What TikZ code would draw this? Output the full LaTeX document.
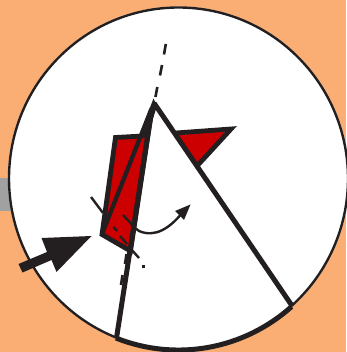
\documentclass[tikz,border=0pt]{standalone}
\usetikzlibrary{arrows.meta}
\definecolor{bg}{HTML}{FBAE74}
\definecolor{ink}{HTML}{231F20}
\definecolor{redf}{HTML}{CC0000}
\begin{document}
\begin{tikzpicture}[x=1pt,y=-1pt,
  thick line/.style={draw=ink,line width=5pt,line cap=butt},
  thin line/.style={draw=ink,line width=2.4pt},
  red panel/.style={fill=redf,draw=ink,line width=4.8pt,line join=miter}]
\useasboundingbox (0,0) rectangle (346,352);
\fill[bg] (0,0) rectangle (346,352);
\fill[black!37] (0,178) rectangle (12,211);
% disc
\fill[white] (178.5,178.5) ellipse [x radius=170.5,y radius=172];
\draw[ink,line width=2.4pt] (178.5,178.5) ellipse [x radius=169.5,y radius=171];
\draw[ink,line width=5pt] (115.9,338) arc[start angle=111.6,end angle=48.3,x radius=170,y radius=171.5];
% red panels
\path[red panel] (115.5,137.5) -- (143,136) -- (148,125) -- (151.5,112) -- (130.5,251) -- (102,234.5) -- cycle;
\path[fill=redf] (178,135) -- (226,131) -- (197,165) -- cycle;
\draw[ink,line width=4.8pt,miter limit=10] (176,133) -- (231,129) -- (197,166);
% main lines
\draw[thick line] (116.5,338) -- (152,108);
\draw[ink,line width=4.3pt] (102,234) -- (151,110);
\fill[ink] (153.5,98.5) -- (157,106) -- (151,125) -- (146,118) -- cycle;
\draw[thick line] (154,103) -- (291.5,305);
% thin dashed cross line
\draw[thin line] (91,197) -- (103,213);
\draw[thin line] (113.5,227) -- (117,231);
\draw[thin line] (120,236) -- (127,244);
\draw[thin line] (131,249) -- (139,258);
\fill[ink] (141.5,265) rectangle (144.5,268);
% dashes on axis
\draw[ink,line width=2.6pt] (165.8,44) -- (164,54.5);
\draw[ink,line width=2.6pt] (162,65) -- (160,75.5);
\draw[ink,line width=2.6pt] (157.3,87) -- (155.5,97);
\draw[ink,line width=2.6pt] (126.5,254) -- (125,264);
\draw[ink,line width=2.6pt] (122.5,275) -- (121,285);
% curved arrow
\draw[ink,line width=2.4pt] (123,215) .. controls (130,222) and (134,228) .. (139,231) .. controls (155,238) and (170,228) .. (182,213);
\fill[ink] (190.5,204.5) -- (175,211) -- (184,220) -- cycle;
% block arrow
\fill[ink] (18.5,264) -- (47,252) -- (41.5,238) -- (91.5,236) -- (56.5,272) -- (51.5,260) -- (22.5,272.5) -- cycle;
\end{tikzpicture}
\end{document}
